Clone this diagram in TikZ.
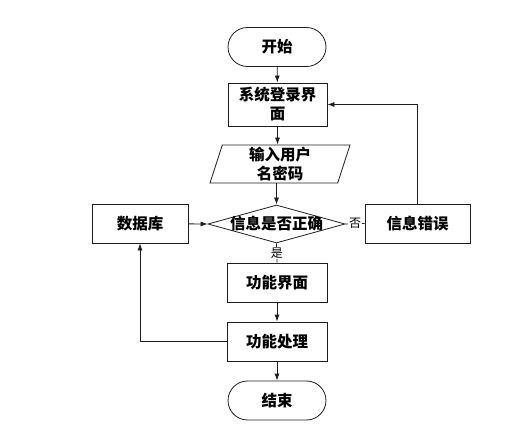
\documentclass[tikz,border=0pt]{standalone}
\usepackage{fontspec}
\newfontfamily\cjk{Noto Sans CJK SC}
\usepackage{tikz}
\usetikzlibrary{shapes.geometric, shapes.misc, arrows.meta}
\definecolor{lineGray}{RGB}{30, 30, 30}

\begin{document}
\begin{tikzpicture}[x=1pt, y=-1pt,
    every node/.style={font=\cjk\bfseries\fontsize{15.5pt}{19pt}\selectfont, draw=lineGray, line width=0.8pt, align=center, inner sep=0pt},
    terminal/.style={rounded rectangle, minimum width=98pt, minimum height=39pt},
    procbox/.style={rectangle, minimum width=100pt, minimum height=39pt},
    iobox/.style={trapezium, trapezium left angle=70, trapezium right angle=110, trapezium stretches body, minimum width=140pt, minimum height=38pt},
    decision/.style={diamond, minimum width=137pt, minimum height=38pt},
    answer/.style={draw=none, fill=white, font=\cjk\fontsize{12pt}{14pt}\selectfont, inner sep=1pt},
    flow/.style={draw=lineGray, line width=0.8pt},
    >={Latex[length=7pt, width=5pt]}]
        \useasboundingbox (0,0) rectangle (515,428);
        % Main column
        \node[terminal] (start) at (277,47) {开始};
        \node[procbox, minimum width=99pt, minimum height=43pt] (login) at (277.5,104.5) {系统登录界\\面};
        \node[iobox] (input) at (280,164) {输入用户\\名密码};
        \node[decision, label=center:{信息是否正确}] (check) at (276.5,224) {};
        \node[procbox] (func) at (277,282.5) {功能界面};
        \node[procbox] (proc) at (277,341.5) {功能处理};
        \node[terminal] (stop) at (277,400.5) {结束};
        % Side boxes
        \node[procbox, minimum width=96pt] (db) at (140,223.5) {数据库};
        \node[procbox, minimum width=105pt] (error) at (417.5,223.5) {信息错误};
        % Connectors
        \draw[flow, ->] (start) -- (login);
        \draw[flow, ->] (login) -- (login |- input.north);
        \draw[flow, ->] (input.south -| check.north) -- (check.north);
        \draw[flow] (check.south) -- node[answer] {是} (func.north);
        \draw[flow] (check.east) -- node[answer] {否} (error.west);
        \draw[flow, ->] (error.north) |- (login.east);
        \draw[flow, ->] (db) -- (check.west);
        \draw[flow, ->] (func) -- (proc);
        \draw[flow, ->] (proc) -- (stop);
        \draw[flow, ->] (proc.west) -| (db.south);
      \end{tikzpicture}
\end{document}
